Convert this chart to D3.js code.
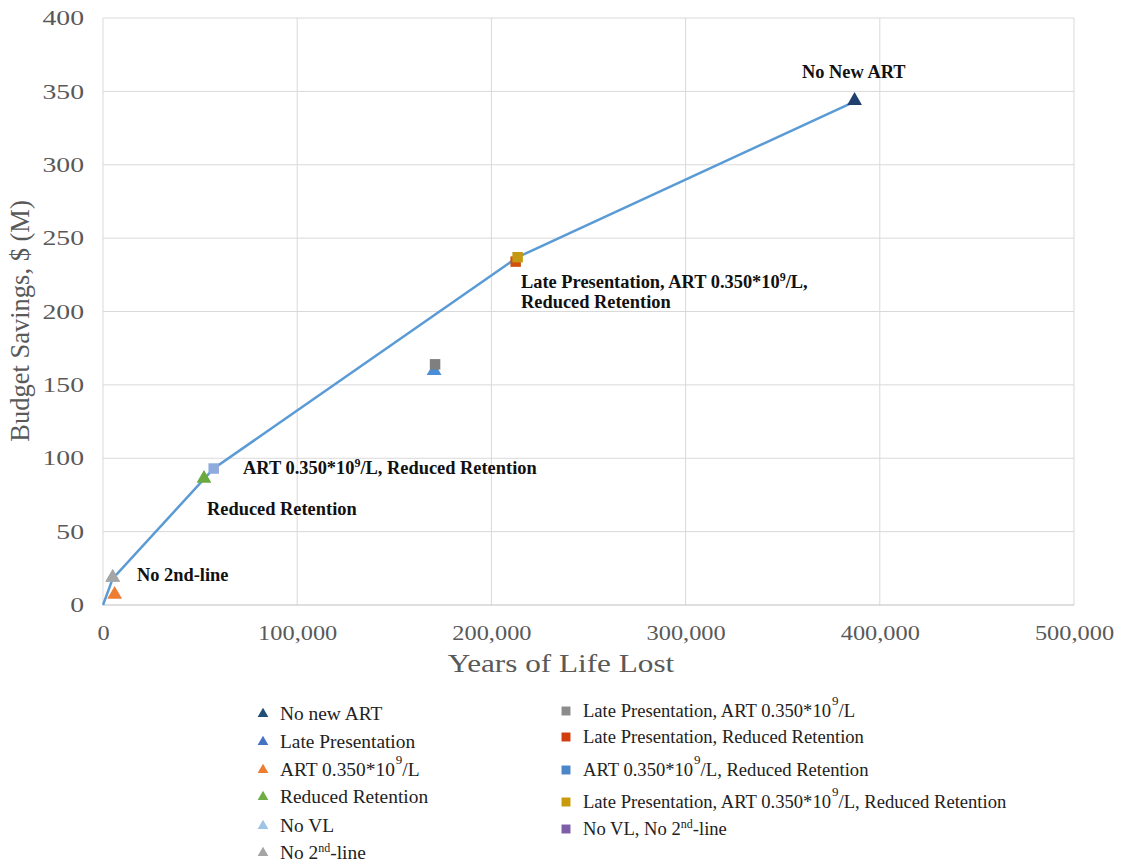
<!DOCTYPE html>
<html><head><meta charset="utf-8">
<script src="https://cdn.jsdelivr.net/npm/d3@7"></script>
<style>body{margin:0;background:#fff}svg{display:block}</style>
</head><body>
<svg id="c" width="1124" height="865"></svg>
<script>
// ---- data ----
const seriesNames = ["No new ART","Late Presentation","ART 0.350*10^9/L","Reduced Retention","No VL","No 2nd-line",
  "Late Presentation, ART 0.350*10^9/L","Late Presentation, Reduced Retention","ART 0.350*10^9/L, Reduced Retention",
  "Late Presentation, ART 0.350*10^9/L, Reduced Retention","No VL, No 2nd-line"];
const seriesShapes = ["tri","tri","tri","tri","tri","tri","sq","sq","sq","sq","sq"];
const yearsLifeLost = [387000,170500,6000,52000,5000,5000,171000,212500,57000,213500,null];
const budgetSavings = [343,159,6.5,85.5,18,18,164,234,93,237,null];
const frontierX = [0,5000,57000,213500,387000];
const frontierY = [0,18,93,237,343];
const xTicks = [0,100000,200000,300000,400000,500000];
const yTicks = [0,50,100,150,200,250,300,350,400];
const markerColors = ["#203f6e","#4a8fd6","#ed7d31","#6aaa3f","#9dc3e6","#a5a5a5","#7f7f7f","#d2500e","#8faadc","#c49a12","#7e5ea8"];
const legendColors = ["#1f4e79","#4472c4","#ed7d31","#70ad47","#9dc3e6","#a5a5a5","#8c8c8c","#d13d0b","#4a86c8","#c99a0b","#7e5ea8"];

const svg = d3.select("#c");
const m = {l:103, r:1074, t:18, b:605};
const x = d3.scaleLinear().domain([0,500000]).range([m.l,m.r]);
const y = d3.scaleLinear().domain([0,400]).range([m.b,m.t]);
const serif = '"Liberation Serif"';

function stretch(sel, k){
  sel.each(function(){
    const w = this.getComputedTextLength();
    d3.select(this).attr("textLength", w*k).attr("lengthAdjust","spacingAndGlyphs");
  });
}

// grid
svg.append("g").selectAll("line.h").data(yTicks.slice(1)).join("line")
  .attr("x1",m.l).attr("x2",m.r).attr("y1",d=>y(d)).attr("y2",d=>y(d))
  .attr("stroke","#d9d9d9").attr("stroke-width",1);
svg.append("g").selectAll("line.v").data(xTicks.slice(1)).join("line")
  .attr("y1",m.t).attr("y2",m.b).attr("x1",d=>x(d)).attr("x2",d=>x(d))
  .attr("stroke","#d9d9d9").attr("stroke-width",1);
svg.append("line").attr("x1",m.l).attr("x2",m.r).attr("y1",m.b).attr("y2",m.b).attr("stroke","#bfbfbf");
svg.append("line").attr("x1",m.l).attr("x2",m.l).attr("y1",m.t).attr("y2",m.b).attr("stroke","#d9d9d9");

const xAxis = svg.append("g").attr("transform",`translate(0,${m.b})`)
  .call(d3.axisBottom(x).tickValues(xTicks).tickFormat(d3.format(",")).tickSize(0).tickPadding(20));
const yAxis = svg.append("g").attr("transform",`translate(${m.l},0)`)
  .call(d3.axisLeft(y).tickValues(yTicks).tickSize(0).tickPadding(19));
[xAxis,yAxis].forEach(g=>{
  g.attr("font-family",null);
  g.select(".domain").remove();
  g.selectAll("text").style("font-family",serif).attr("font-size",21).attr("fill","#595959");
});
stretch(xAxis.selectAll("text"),1.16);
stretch(yAxis.selectAll("text"),1.32);

const xt = svg.append("text").attr("x",561).attr("y",672).attr("text-anchor","middle")
  .style("font-family",serif).attr("font-size",26).attr("fill","#595959").text("Years of Life Lost");
stretch(xt,1.2);
svg.append("text").attr("transform",`translate(29,321) rotate(-90)`).attr("text-anchor","middle")
  .style("font-family",serif).attr("font-size",26.5).attr("fill","#595959").text("Budget Savings, $ (M)");

const lineData = frontierX.map((d,i)=>[d,frontierY[i]]);
svg.append("path").datum(lineData)
  .attr("d",d3.line().x(d=>x(d[0])).y(d=>y(d[1])))
  .attr("fill","none").attr("stroke","#5b9bd5").attr("stroke-width",2.5);

const sym = {tri:d3.symbol().type(d3.symbolTriangle).size(95), sq:d3.symbol().type(d3.symbolSquare).size(110)};
const pts = seriesNames.map((n,i)=>({n,i,shape:seriesShapes[i],xv:yearsLifeLost[i],yv:budgetSavings[i]}))
  .filter(d=>d.xv!=null && d.yv!=null);
svg.append("g").selectAll("path").data(pts).join("path")
  .attr("transform",d=>`translate(${x(d.xv)},${y(d.yv)-(d.shape==="tri"?1:0)})`)
  .attr("d",d=>sym[d.shape]())
  .attr("fill",d=>markerColors[d.i]);

function richText(sel, str, supSize){
  const parts = str.split("^9");
  parts.forEach((p,k)=>{
    sel.append("tspan").text(p);
    if(k<parts.length-1){
      sel.append("tspan").attr("baseline-shift","super").attr("font-size",supSize).text("9");
    }
  });
}

const ann = [
  {t:"No New ART", x:802, y:78},
  {t:"Late Presentation, ART 0.350*10^9/L,", x:521, y:288},
  {t:"Reduced Retention", x:521, y:308},
  {t:"ART 0.350*10^9/L, Reduced Retention", x:243, y:474},
  {t:"Reduced Retention", x:207, y:515},
  {t:"No 2nd-line", x:137, y:581}
];
ann.forEach(a=>{
  const t = svg.append("text").attr("x",a.x).attr("y",a.y).style("font-family",serif)
    .attr("font-weight","bold").attr("font-size",18.4).attr("fill","#111");
  richText(t,a.t,12);
});

const legPos = [
  [263,720],[263,748],[263,776],[263,803],[263,832],[263,859],
  [566,717],[566,743],[566,776],[566,808],[566,835]
];
const lg = svg.append("g");
seriesNames.forEach((n,i)=>{
  const [lx,ly] = legPos[i];
  const shape = seriesShapes[i];
  lg.append("path").attr("transform",`translate(${lx},${ly-6})`)
    .attr("d",(shape==="tri"?d3.symbol().type(d3.symbolTriangle).size(50):d3.symbol().type(d3.symbolSquare).size(80))())
    .attr("fill",legendColors[i]);
  const t = lg.append("text").attr("x",lx+17).attr("y",ly).style("font-family",serif)
    .attr("font-size",shape==="tri"?19.4:18.6).attr("fill","#222");
  if(n.indexOf("2nd")>=0){
    const parts = n.split("2nd");
    t.append("tspan").text(parts[0]+"2");
    t.append("tspan").attr("baseline-shift","super").attr("font-size",12).text("nd");
    t.append("tspan").text(parts[1]);
  } else {
    const parts = n.split("^9");
    parts.forEach((p,k)=>{
      const s = t.append("tspan").text(p);
      if(k>0) s.attr("dy",12);
      if(k<parts.length-1){
        t.append("tspan").attr("dy",-12).attr("dx",1).attr("font-size",13).text("9");
      }
    });
  }
});
</script>
</body></html>
